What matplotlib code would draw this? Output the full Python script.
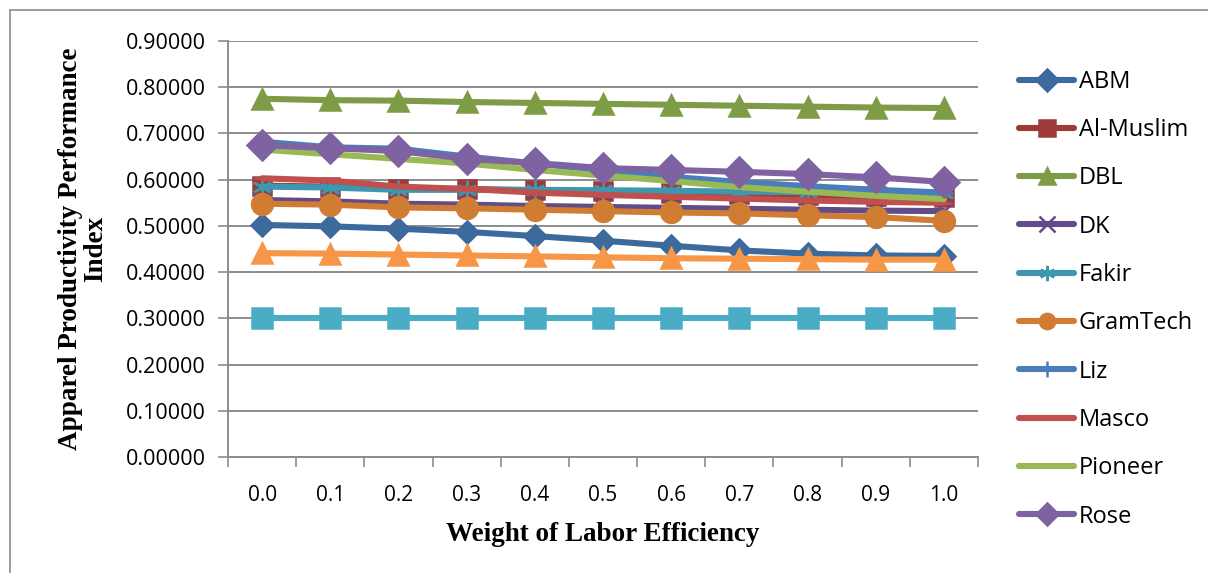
import matplotlib.pyplot as plt
import numpy as np
from matplotlib.patches import Rectangle

# weights of labor efficiency on the x axis
weights = ["0.0", "0.1", "0.2", "0.3", "0.4", "0.5", "0.6", "0.7", "0.8", "0.9", "1.0"]

abm = [0.502, 0.499, 0.494, 0.487, 0.478, 0.468, 0.457, 0.447, 0.440, 0.436, 0.435]
al_muslim = [0.587, 0.585, 0.580, 0.580, 0.577, 0.575, 0.572, 0.568, 0.566, 0.564, 0.563]
dbl = [0.775, 0.772, 0.771, 0.768, 0.766, 0.764, 0.762, 0.760, 0.758, 0.756, 0.755]
dk = [0.556, 0.553, 0.548, 0.546, 0.543, 0.541, 0.539, 0.537, 0.535, 0.533, 0.532]
fakir = [0.585, 0.583, 0.578, 0.578, 0.578, 0.577, 0.576, 0.574, 0.573, 0.572, 0.571]
gramtech = [0.548, 0.546, 0.540, 0.538, 0.535, 0.532, 0.529, 0.527, 0.523, 0.519, 0.511]
liz = [0.682, 0.670, 0.667, 0.650, 0.635, 0.620, 0.606, 0.595, 0.586, 0.578, 0.572]
masco = [0.603, 0.598, 0.585, 0.580, 0.572, 0.567, 0.563, 0.559, 0.555, 0.552, 0.550]
pioneer = [0.665, 0.655, 0.645, 0.635, 0.621, 0.609, 0.597, 0.584, 0.574, 0.565, 0.558]
rose = [0.675, 0.668, 0.662, 0.645, 0.636, 0.625, 0.621, 0.617, 0.612, 0.605, 0.595]
series11 = [0.441, 0.440, 0.438, 0.436, 0.434, 0.432, 0.430, 0.429, 0.428, 0.427, 0.427]
series12 = [0.300, 0.300, 0.300, 0.300, 0.300, 0.300, 0.300, 0.300, 0.300, 0.300, 0.300]

# (label, values, color, marker, marker size)
series = [
    ("ABM", abm, "#3D6A9C", "D", 11),
    ("Al-Muslim", al_muslim, "#9E3B38", "s", 13),
    ("DBL", dbl, "#7E9B45", "^", 15),
    ("DK", dk, "#614C88", "x", 13),
    ("Fakir", fakir, "#3C97AF", (6, 2, 0), 14),
    ("GramTech", gramtech, "#D07C33", "o", 15),
    ("Liz", liz, "#4A7EBB", "+", 13),
    ("Masco", masco, "#C0504D", "_", 12),
    ("Pioneer", pioneer, "#98B954", None, 0),
    ("Rose", rose, "#7E62A1", "D", 15),
    ("_s11", series11, "#F79646", "^", 15),
    ("_s12", series12, "#4BACC6", "s", 14),
]

fig = plt.figure(figsize=(12.08, 5.73), dpi=100)
ax = fig.add_axes([228 / 1208, 1 - 457 / 573, 750 / 1208, 416 / 573])

x = np.arange(len(weights))
for label, vals, color, marker, ms in series:
    ax.plot(x, vals, color=color, lw=4.4, marker=marker, markersize=ms,
            markerfacecolor=color, markeredgecolor=color, markeredgewidth=1.8,
            label=label, solid_capstyle="round", zorder=3)

ax.set_xlim(-0.5, len(weights) - 0.5)
ax.set_ylim(0, 0.9)
ax.set_yticks(np.arange(0, 0.91, 0.1))
ax.set_yticklabels([f"{v:.5f}" for v in np.arange(0, 0.91, 0.1)])
ax.set_xticks(x)
ax.set_xticklabels(weights)
ax.set_xticks(np.arange(-0.5, len(weights)), minor=True)

ax.grid(axis="y", color="#8C8C8C", lw=1.4, zorder=0)
for s in ["top", "right"]:
    ax.spines[s].set_visible(False)
for s in ["left", "bottom"]:
    ax.spines[s].set_color("#8C8C8C")
    ax.spines[s].set_linewidth(1.4)

ax.tick_params(axis="y", length=7, width=1.2, color="#8C8C8C", pad=9,
               labelsize=15.5, labelfontfamily="Open Sans")
ax.tick_params(axis="x", which="major", length=0, pad=20,
               labelsize=15, labelfontfamily="Open Sans")
ax.tick_params(axis="x", which="minor", length=7, width=1.2, color="#8C8C8C")

ax.set_xlabel("Weight of Labor Efficiency", family="Liberation Serif",
              fontweight="bold", fontsize=19.5, labelpad=12)
ax.set_ylabel("Apparel Productivity Performance\nIndex", family="Liberation Serif",
              fontweight="bold", fontsize=19.5, labelpad=13, linespacing=1.0)

leg = fig.legend(loc="upper left", bbox_to_anchor=(1007 / 1208, 1 - 58 / 573),
                 frameon=False, borderpad=0, handlelength=2.35, handletextpad=0.18,
                 labelspacing=1.03, prop={"family": "Open Sans", "size": 17})
for h in leg.legend_handles:
    h.set_markersize(11)

# thin border around the chart area
fig.patches.append(Rectangle((10 / 1208, -0.1), 1.2, 1 - 10 / 573 + 0.1,
                             transform=fig.transFigure, fill=False,
                             edgecolor="#8C8C8C", lw=1.2))

fig.savefig("out.png", dpi=100)
